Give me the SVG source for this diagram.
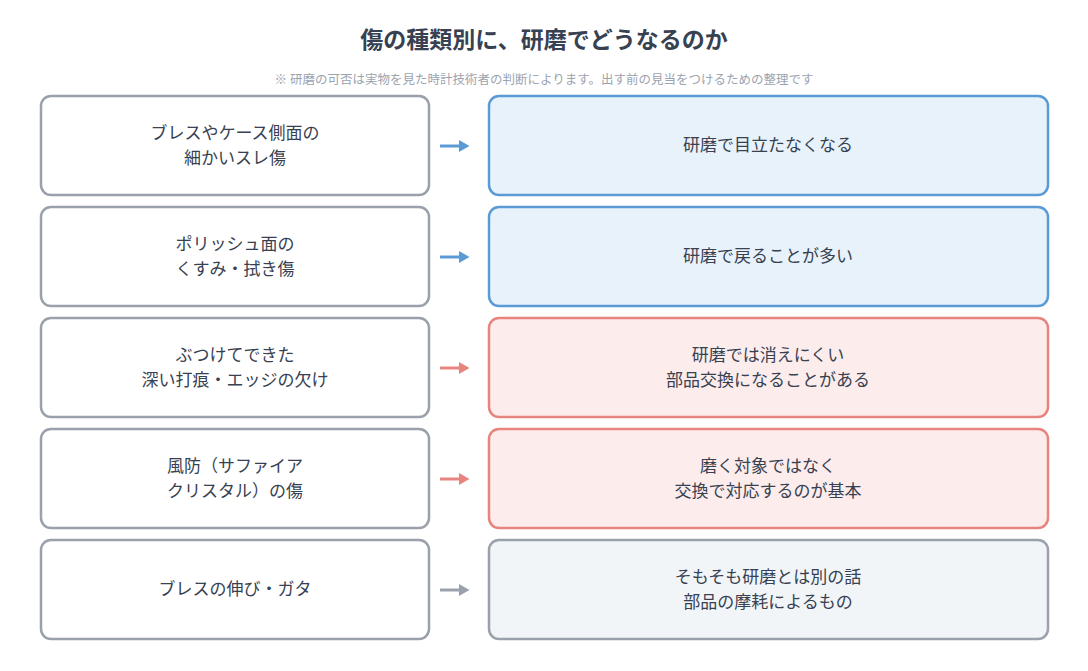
<svg xmlns="http://www.w3.org/2000/svg" width="1088" height="671" viewBox="0 0 1088 671">
<style>
text{font-family:"Noto Sans CJK JP","Noto Sans",sans-serif;fill:#374151;text-anchor:middle;font-size:17px}
.l{fill:#ffffff;stroke:#9aa1ab;stroke-width:2.5}
.b{fill:#e8f2fb;stroke:#5b9bd5;stroke-width:2.5}
.r{fill:#fcecec;stroke:#e8847f;stroke-width:2.5}
.g{fill:#f2f5f8;stroke:#9aa1ab;stroke-width:2.5}
.cb{stroke:#5b9bd5;stroke-width:3}
.cr{stroke:#e8847f;stroke-width:3}
.cg{stroke:#9aa1ab;stroke-width:3}
</style>
<defs>
<marker id="mb" markerWidth="4" markerHeight="4" refX="2" refY="2" orient="auto"><path d="M0,0L3.5,2L0,4z" fill="#5b9bd5"/></marker>
<marker id="mr" markerWidth="4" markerHeight="4" refX="2" refY="2" orient="auto"><path d="M0,0L3.5,2L0,4z" fill="#e8847f"/></marker>
<marker id="mg" markerWidth="4" markerHeight="4" refX="2" refY="2" orient="auto"><path d="M0,0L3.5,2L0,4z" fill="#9aa1ab"/></marker>
</defs>
<rect width="1088" height="671" fill="#fff"/>
<text x="544" y="48" style="font-size:23px;font-weight:bold">傷の種類別に、研磨でどうなるのか</text>
<text x="544" y="84" style="font-size:12.5px;fill:#9ca3af">※ 研磨の可否は実物を見た時計技術者の判断によります。出す前の見当をつけるための整理です</text>
<g id="connectors">
<line class="cb" x1="440" y1="146" x2="465" y2="146" marker-end="url(#mb)"/>
<line class="cb" x1="440" y1="257" x2="465" y2="257" marker-end="url(#mb)"/>
<line class="cr" x1="440" y1="368" x2="465" y2="368" marker-end="url(#mr)"/>
<line class="cr" x1="440" y1="479" x2="465" y2="479" marker-end="url(#mr)"/>
<line class="cg" x1="440" y1="590" x2="465" y2="590" marker-end="url(#mg)"/>
</g>
<g id="l1"><rect class="l" x="41" y="96" width="388" height="99" rx="10"/><text x="235" y="139">ブレスやケース側面の</text><text x="235" y="164">細かいスレ傷</text></g>
<g id="r1"><rect class="b" x="489" y="96" width="559" height="99" rx="10"/><text x="768" y="151">研磨で目立たなくなる</text></g>
<g id="l2"><rect class="l" x="41" y="207" width="388" height="99" rx="10"/><text x="235" y="250">ポリッシュ面の</text><text x="235" y="275">くすみ・拭き傷</text></g>
<g id="r2"><rect class="b" x="489" y="207" width="559" height="99" rx="10"/><text x="768" y="262">研磨で戻ることが多い</text></g>
<g id="l3"><rect class="l" x="41" y="318" width="388" height="99" rx="10"/><text x="235" y="361">ぶつけてできた</text><text x="235" y="386">深い打痕・エッジの欠け</text></g>
<g id="r3"><rect class="r" x="489" y="318" width="559" height="99" rx="10"/><text x="768" y="361">研磨では消えにくい</text><text x="768" y="386">部品交換になることがある</text></g>
<g id="l4"><rect class="l" x="41" y="429" width="388" height="99" rx="10"/><text x="235" y="472">風防（サファイア</text><text x="235" y="497">クリスタル）の傷</text></g>
<g id="r4"><rect class="r" x="489" y="429" width="559" height="99" rx="10"/><text x="768" y="472">磨く対象ではなく</text><text x="768" y="497">交換で対応するのが基本</text></g>
<g id="l5"><rect class="l" x="41" y="540" width="388" height="99" rx="10"/><text x="235" y="595">ブレスの伸び・ガタ</text></g>
<g id="r5"><rect class="g" x="489" y="540" width="559" height="99" rx="10"/><text x="768" y="583">そもそも研磨とは別の話</text><text x="768" y="608">部品の摩耗によるもの</text></g>
</svg>
